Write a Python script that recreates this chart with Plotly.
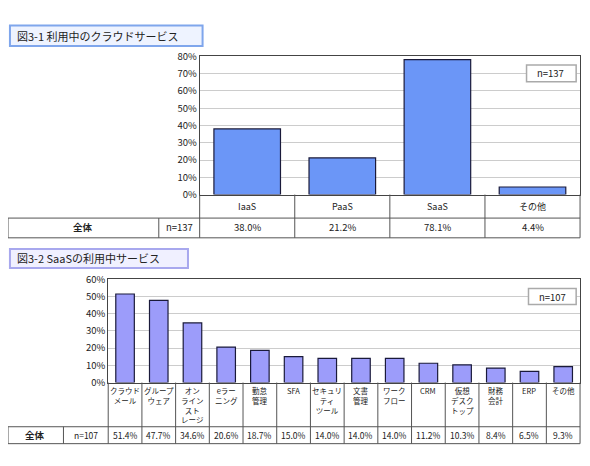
import plotly.graph_objects as go

W, H = 590, 466   # reference pixel grid used for placement

# data
cats1 = ["IaaS", "PaaS", "SaaS", "その他"]
vals1 = [38.0, 21.2, 78.1, 4.4]
n1 = "n=137"

cats2 = ["クラウド<br>メール", "グループ<br>ウェア", "オン<br>ライン<br>スト<br>レージ", "eラー<br>ニング",
         "勤怠<br>管理", "SFA", "セキュリ<br>ティ<br>ツール", "文書<br>管理", "ワーク<br>フロー", "CRM",
         "仮想<br>デスク<br>トップ", "財務<br>会計", "ERP", "その他"]
vals2 = [51.4, 47.7, 34.6, 20.6, 18.7, 15.0, 14.0, 14.0, 14.0, 11.2, 10.3, 8.4, 6.5, 9.3]
n2 = "n=107"

FONT = "Noto Sans CJK JP"


def px(x):
    return x / W


def py(y):
    return 1 - y / H


shapes = []
annots = []


def line(x0, y0, x1, y1, color="#555555", w=1):
    shapes.append(dict(type="line", xref="paper", yref="paper", x0=px(x0), y0=py(y0),
                       x1=px(x1), y1=py(y1), line=dict(color=color, width=w)))


def text(x, y, t, size=10, anchor="center"):
    annots.append(dict(xref="paper", yref="paper", x=px(x), y=py(y), text=t, showarrow=False,
                       xanchor=anchor, yanchor="middle", font=dict(size=size, color="#222222", family=FONT)))


def box(x0, y0, x1, y1, border, fill, t, size=11):
    shapes.append(dict(type="rect", xref="paper", yref="paper", x0=px(x0), y0=py(y0), x1=px(x1), y1=py(y1),
                       line=dict(color=border, width=2), fillcolor=fill))
    annots.append(dict(xref="paper", yref="paper", x=px(x0 + 5), y=py((y0 + y1) / 2), text=t, showarrow=False,
                       xanchor="left", yanchor="middle", font=dict(size=size, color="#222222", family=FONT)))


fig = go.Figure()
fig.add_trace(go.Bar(x=cats1, y=vals1, marker=dict(color="#6b96f7", line=dict(color="#1a1a3a", width=1.2)),
                     width=0.7, xaxis="x", yaxis="y", hoverinfo="x+y"))
fig.add_trace(go.Bar(x=list(range(len(cats2))), y=vals2,
                     marker=dict(color="#9c9cfa", line=dict(color="#1a1a3a", width=1.2)),
                     width=0.55, xaxis="x2", yaxis="y2", hoverinfo="y"))

# ---- chart 1
L1, R1, T1, B1 = 197, 588, 43, 190
box(2, 10, 200, 32, "#7fa6ec", "#eef3ff", "図3-1 利用中のクラウドサービス", 11)
cw1 = (R1 - L1) / len(cats1)
for i, c in enumerate(cats1):
    cx = L1 + cw1 * (i + 0.5)
    text(cx, 203, c, 9)
    text(cx, 225, f"{vals1[i]:.1f}%", 9.5)
for i in range(len(cats1) + 1):
    line(L1 + cw1 * i, B1, L1 + cw1 * i, 236)
line(0, 215, R1, 215)
line(0, 236, R1, 236)
line(0, 215, 0, 236)
line(155, 215, 155, 236)
text(77, 225, "<b>全体</b>", 9.5)
text(176, 225, n1, 9.5)
shapes.append(dict(type="rect", xref="paper", yref="paper", x0=px(533), y0=py(52), x1=px(584), y1=py(70),
                   line=dict(color="#aaaaaa", width=1.5), fillcolor="white"))
text(558, 61, n1, 9.5)

# ---- chart 2
L2, R2, T2, B2 = 103, 588, 280, 390
box(2, 248, 185, 268, "#a8a8ee", "#f0f0ff", "図3-2 SaaSの利用中サービス", 11)
cw2 = (R2 - L2) / len(cats2)
for i, c in enumerate(cats2):
    cx = L2 + cw2 * (i + 0.5)
    annots.append(dict(xref="paper", yref="paper", x=px(cx), y=py(390), text=c, showarrow=False,
                       xanchor="center", yanchor="top",
                       font=dict(size=7.5, color="#222222", family=FONT)))
    text(cx, 446, f"{vals2[i]:.1f}%", 8.5)
for i in range(len(cats2) + 1):
    line(L2 + cw2 * i, B2, L2 + cw2 * i, 455)
line(0, 437, R2, 437)
line(0, 455, R2, 455)
line(0, 437, 0, 455)
line(57, 437, 57, 455)
text(28, 446, "<b>全体</b>", 9.5)
text(80, 446, n2, 8.5)
shapes.append(dict(type="rect", xref="paper", yref="paper", x0=px(535), y0=py(290), x1=px(584), y1=py(307),
                   line=dict(color="#aaaaaa", width=1.5), fillcolor="white"))
text(560, 298.5, n2, 9.5)

axis_common = dict(showline=True, linecolor="#444444", linewidth=1, mirror=True)
fig.update_layout(
    width=574, height=452, margin=dict(l=0, r=0, t=0, b=0),
    paper_bgcolor="white", plot_bgcolor="white", showlegend=False,
    font=dict(family=FONT, size=10, color="#222222"),
    xaxis=dict(domain=[px(L1), px(R1)], anchor="y", showticklabels=False, ticks="", **axis_common),
    yaxis=dict(domain=[py(B1), py(T1)], anchor="x", range=[0, 80], dtick=10, ticksuffix="%",
               gridcolor="#cccccc", tickfont=dict(size=9.5), **axis_common),
    xaxis2=dict(domain=[px(L2), px(R2)], anchor="y2", range=[-0.5, len(cats2) - 0.5],
                showticklabels=False, ticks="", **axis_common),
    yaxis2=dict(domain=[py(B2), py(T2)], anchor="x2", range=[0, 60], dtick=10, ticksuffix="%",
                gridcolor="#cccccc", tickfont=dict(size=9.5), **axis_common),
    shapes=shapes, annotations=annots, bargap=0.3,
)

fig.write_html("out.html")
